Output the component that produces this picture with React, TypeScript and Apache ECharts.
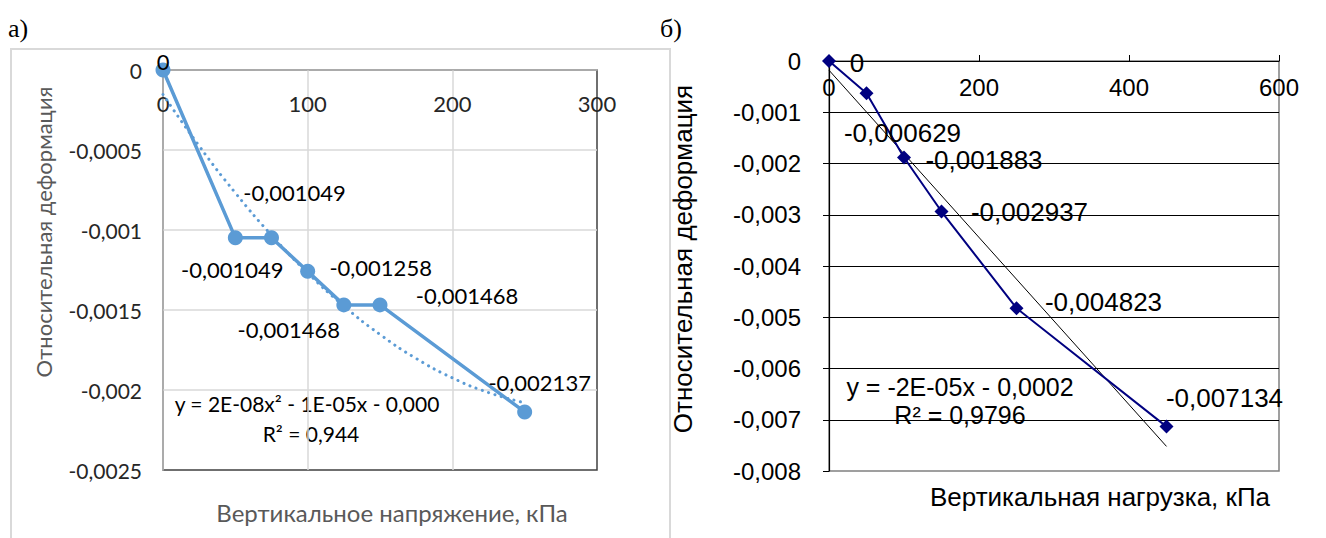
import React, { useEffect, useRef } from "react";
import * as echarts from "echarts";

// ---------- Chart a) data ----------
const loadA = [0, 50, 75, 100, 125, 150, 250];
const strainA = [0, -0.001049, -0.001049, -0.001258, -0.001468, -0.001468, -0.002137];
// polynomial trendline
const trendLoadA = [0, 25, 50, 75, 100, 125, 150, 175, 200, 225, 250];
const trendStrainA = [-0.000153, -0.000475, -0.000768, -0.001032, -0.001268, -0.001475, -0.001653, -0.001803, -0.001924, -0.002016, -0.00208];
const trendTextA = ["y = 2E-08x² - 1E-05x - 0,000", "R² = 0,944"];
const xTicksA = [0, 100, 200, 300];
const yTicksA = [-0.0025, 0];

// ---------- Chart б) data ----------
const loadB = [0, 50, 100, 150, 250, 450];
const strainB = [0, -0.000629, -0.001883, -0.002937, -0.004823, -0.007134];
// linear trendline end points
const trendLoadB = [0, 450];
const trendStrainB = [-0.00018, -0.00752];
const trendTextB = ["y = -2E-05x - 0,0002", "R² = 0,9796"];
const xTicksB = [0, 600];
const yTicksB = [-0.008, 0];

const titleYA = "Относительная деформация";
const titleXA = "Вертикальное напряжение, кПа";
const titleYB = "Относительная деформация";
const titleXB = "Вертикальная нагрузка, кПа";

// label placements (style)
const labelOffsetsA: number[][] = [[0, -9], [-3, 32], [23, -45], [73, -4], [-55, 25], [87, -9], [15, -29]];
const labelOffsetsB: number[][] = [[28, 2], [36, 40], [80, 2], [88, 0], [87, -6], [58, -29]];

const fmtAxis = (v: number) => String(parseFloat(v.toFixed(6))).replace(".", ",");
const fmtVal = (v: number) => (v === 0 ? "0" : v.toFixed(6).replace(".", ","));

const FA = "Lato";
const FB = "Liberation Sans";

export default function App() {
  const ref = useRef<HTMLDivElement>(null);
  useEffect(() => {
    if (!ref.current) return;
    const chart = echarts.init(ref.current, undefined, { renderer: "svg" });
    const option: any = {
      animation: false,
      backgroundColor: "#ffffff",
      grid: [
        { left: 163, top: 70, width: 434, height: 400, show: true, borderColor: "#404040", borderWidth: 1.5, containLabel: false, outerBoundsMode: "none" },
        { left: 829, top: 61, width: 450, height: 410, show: true, borderColor: "#808080", borderWidth: 1.5, containLabel: false, outerBoundsMode: "none" },
      ],
      xAxis: [
        {
          type: "value", gridIndex: 0, position: "top",
          min: xTicksA[0], max: xTicksA[xTicksA.length - 1], interval: 100,
          axisLine: { show: true, onZero: false, lineStyle: { color: "#bfbfbf", width: 1.5 } },
          axisTick: { show: false },
          axisLabel: { inside: true, margin: 22, fontFamily: FA, fontSize: 22, color: "#262626", showMinLabel: true, showMaxLabel: true },
          splitLine: { show: true, showMaxLine: false, showMinLine: false, lineStyle: { color: "#d9d9d9", width: 1.5 } },
        },
        {
          type: "value", gridIndex: 1, position: "top",
          min: xTicksB[0], max: xTicksB[1], interval: 200,
          axisLine: { show: true, onZero: false, lineStyle: { color: "#000000", width: 1.2 } },
          axisTick: { show: true, length: 6, inside: false, lineStyle: { color: "#000000" } },
          axisLabel: { inside: true, margin: 14, fontFamily: FB, fontSize: 24, color: "#000000", showMinLabel: true, showMaxLabel: true },
          splitLine: { show: false },
        },
      ],
      yAxis: [
        {
          type: "value", gridIndex: 0,
          min: yTicksA[0], max: yTicksA[1], interval: 0.0005,
          axisLine: { show: true, onZero: false, lineStyle: { color: "#bfbfbf", width: 1.5 } },
          axisTick: { show: false },
          axisLabel: { margin: 21, fontFamily: FA, fontSize: 21, color: "#262626", formatter: fmtAxis },
          splitLine: { show: true, showMinLine: false, showMaxLine: false, lineStyle: { color: "#d9d9d9", width: 1.5 } },
        },
        {
          type: "value", gridIndex: 1,
          min: yTicksB[0], max: yTicksB[1], interval: 0.001,
          axisLine: { show: true, onZero: false, lineStyle: { color: "#000000", width: 1.2 } },
          axisTick: { show: true, length: 6, lineStyle: { color: "#000000" } },
          axisLabel: { margin: 28, fontFamily: FB, fontSize: 24, color: "#000000", formatter: fmtAxis },
          splitLine: { show: true, showMinLine: false, showMaxLine: false, lineStyle: { color: "#000000", width: 1.2 } },
        },
      ],
      series: [
        {
          name: "trendA", type: "line", xAxisIndex: 0, yAxisIndex: 0,
          data: trendLoadA.map((x, i) => [x, trendStrainA[i]]),
          smooth: true, symbol: "none", silent: true,
          lineStyle: { color: "#5B9BD5", width: 3, type: [0.1, 6.5], cap: "round" },
          z: 2,
        },
        {
          name: "a", type: "line", xAxisIndex: 0, yAxisIndex: 0,
          data: loadA.map((x, i) => ({ value: [x, strainA[i]], label: { offset: labelOffsetsA[i] } })),
          symbol: "circle", symbolSize: 15,
          lineStyle: { color: "#5B9BD5", width: 3.5 },
          itemStyle: { color: "#5B9BD5" },
          label: { show: true, position: "inside", fontFamily: FA, fontSize: 22, color: "#000000", formatter: (p: any) => fmtVal(p.value[1]) },
          z: 3,
        },
        {
          name: "trendB", type: "line", xAxisIndex: 1, yAxisIndex: 1,
          data: trendLoadB.map((x, i) => [x, trendStrainB[i]]),
          symbol: "none", silent: true,
          lineStyle: { color: "#000000", width: 1 },
          z: 2,
        },
        {
          name: "b", type: "line", xAxisIndex: 1, yAxisIndex: 1,
          data: loadB.map((x, i) => ({ value: [x, strainB[i]], label: { offset: labelOffsetsB[i] } })),
          symbol: "diamond", symbolSize: 14,
          lineStyle: { color: "#000080", width: 2 },
          itemStyle: { color: "#000080" },
          label: { show: true, position: "inside", fontFamily: FB, fontSize: 26, color: "#000000", formatter: (p: any) => fmtVal(p.value[1]) },
          z: 3,
        },
      ],
      graphic: [
        { type: "rect", shape: { x: 11, y: 49, width: 659, height: 520 }, style: { fill: "none", stroke: "#d9d9d9", lineWidth: 2 }, silent: true, z: -1 },
        { type: "text", x: 8, y: 28, style: { text: "а)", font: "26px 'Liberation Serif'", fill: "#000", verticalAlign: "middle" } },
        { type: "text", x: 660, y: 28, style: { text: "б)", font: "26px 'Liberation Serif'", fill: "#000", verticalAlign: "middle" } },
        { type: "text", x: 43, y: 232, rotation: Math.PI / 2, style: { text: titleYA, font: `22px ${FA}`, fill: "#595959", align: "center", verticalAlign: "middle" } },
        { type: "text", x: 392, y: 512, style: { text: titleXA, font: `24px ${FA}`, fill: "#595959", align: "center", verticalAlign: "middle" } },
        { type: "text", x: 683, y: 259, rotation: Math.PI / 2, style: { text: titleYB, font: `26px '${FB}'`, fill: "#000", align: "center", verticalAlign: "middle" } },
        { type: "text", x: 1100, y: 497, style: { text: titleXB, font: `26px '${FB}'`, fill: "#000", align: "center", verticalAlign: "middle" } },
        { type: "text", x: 307, y: 403, style: { text: trendTextA[0], font: `21px ${FA}`, fill: "#000", align: "center", verticalAlign: "middle" } },
        { type: "text", x: 311, y: 433, style: { text: trendTextA[1], font: `21px ${FA}`, fill: "#000", align: "center", verticalAlign: "middle" } },
        { type: "text", x: 960, y: 387, style: { text: trendTextB[0], font: `25px '${FB}'`, fill: "#000", align: "center", verticalAlign: "middle" } },
        { type: "text", x: 960, y: 415, style: { text: trendTextB[1], font: `25px '${FB}'`, fill: "#000", align: "center", verticalAlign: "middle" } },
      ],
    };
    chart.setOption(option);
    return () => chart.dispose();
  }, []);
  return (
    <div
      ref={ref}
      style={{ position: "fixed", left: 0, top: 0, width: 1326, height: 538, background: "#fff" }}
    />
  );
}
